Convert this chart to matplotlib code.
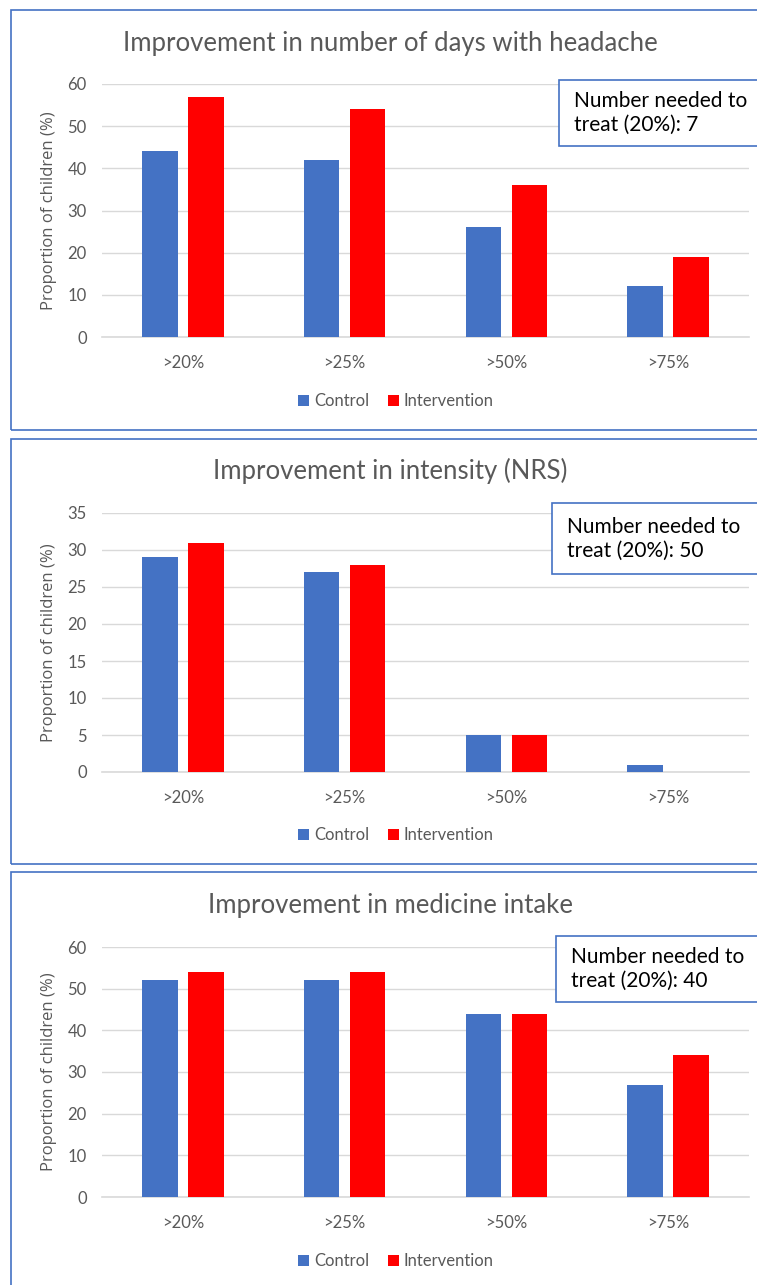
import matplotlib.pyplot as plt
from matplotlib.patches import Rectangle
import numpy as np

W, H = 757, 1285
DPI = 100

categories = ['>20%', '>25%', '>50%', '>75%']
series_names = ['Control', 'Intervention']

titles = ['Improvement in number of days with headache',
          'Improvement in intensity (NRS)',
          'Improvement in medicine intake']

days_control = [44, 42, 26, 12]
days_intervention = [57, 54, 36, 19]
nrs_control = [29, 27, 5, 1]
nrs_intervention = [31, 28, 5, 0]
med_control = [52, 52, 44, 27]
med_intervention = [54, 54, 44, 34]

nnt_labels = ['Number needed to\ntreat (20%): 7',
              'Number needed to\ntreat (20%): 50',
              'Number needed to\ntreat (20%): 40']

y_max = [60, 35, 60]
y_step = [10, 5, 10]

BLUE = '#4472C4'
RED = '#FF0000'
GRID = '#D9D9D9'
TXT = '#595959'

# layout in pixels: (panel top, panel bottom, title y, axes top px, axes bottom px,
#                    box left, box top, box bottom, legend y)
layout = [
    (10, 430, 43, 84, 337, 559, 80, 146, 401),
    (439, 864, 471, 513, 772, 552, 503, 574, 835),
    (872, 1300, 906, 947, 1197, 556, 936, 1002, 1261),
]

plt.rcParams['font.family'] = ['Lato', 'DejaVu Sans']

fig = plt.figure(figsize=(W / DPI, H / DPI), dpi=DPI)


def fx(x):
    return x / W


def fy(y):
    return 1 - y / H


data = [(days_control, days_intervention),
        (nrs_control, nrs_intervention),
        (med_control, med_intervention)]

ax_left, ax_right = 102, 749
x = np.arange(len(categories))
bw = 0.22
off = 0.142

for i, (ctrl, intv) in enumerate(data):
    ptop, pbot, ty, atop, abot, bl, bt, bb, ly = layout[i]

    # panel border
    fig.patches.append(Rectangle((fx(11), fy(pbot)), fx(800 - 11), (pbot - ptop) / H,
                                 transform=fig.transFigure, fill=False,
                                 edgecolor=BLUE, lw=1.2))

    fig.text(fx(390), fy(ty), titles[i], ha='center', va='center',
             fontsize=18.5, color=TXT)

    ax = fig.add_axes([fx(ax_left), fy(abot), fx(ax_right - ax_left), (abot - atop) / H])
    b1 = ax.bar(x - off, ctrl, bw, color=BLUE, label=series_names[0], zorder=3)
    b2 = ax.bar(x + off, intv, bw, color=RED, label=series_names[1], zorder=3)
    ax.set_xlim(-0.5, len(categories) - 0.5)
    ax.set_ylim(0, y_max[i])
    ax.set_yticks(np.arange(0, y_max[i] + 1, y_step[i]))
    ax.set_xticks(x)
    ax.set_xticklabels(categories)
    ax.grid(axis='y', color=GRID, lw=1, zorder=0)
    for s in ['top', 'right', 'left']:
        ax.spines[s].set_visible(False)
    ax.spines['bottom'].set_color(GRID)
    ax.spines['bottom'].set_linewidth(1.2)
    ax.tick_params(axis='both', length=0, colors=TXT, labelsize=12)
    ax.tick_params(axis='x', pad=13)
    ax.tick_params(axis='y', pad=11)
    ax.set_ylabel('Proportion of children (%)', fontsize=12, color=TXT,
                  family=['Open Sans', 'DejaVu Sans'])
    ax.yaxis.set_label_coords(-0.07, 0.5)

    fig.legend(handles=[b1, b2], loc='center', bbox_to_anchor=(fx(396), fy(ly)),
               ncol=2, frameon=False, fontsize=12, labelcolor=TXT,
               handlelength=0.65, handleheight=0.65, handletextpad=0.3,
               columnspacing=1.1)

    # NNT box
    fig.patches.append(Rectangle((fx(bl), fy(bb)), fx(800 - bl), (bb - bt) / H,
                                 transform=fig.transFigure, fill=True,
                                 facecolor='white', edgecolor=BLUE, lw=1.2, zorder=5))
    fig.text(fx(bl + 15), fy((bt + bb) / 2), nnt_labels[i], ha='left', va='center',
             fontsize=15, color='black', linespacing=1.25, zorder=6)

fig.savefig('out.png', dpi=DPI)
